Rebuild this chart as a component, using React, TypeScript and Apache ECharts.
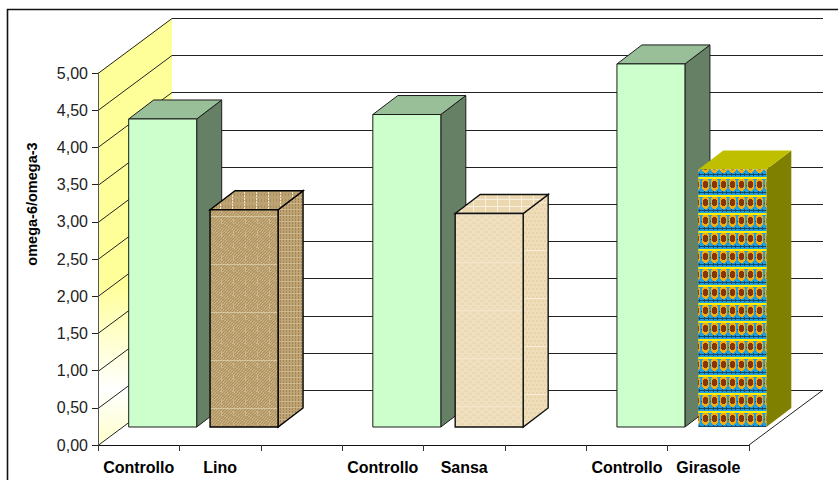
import React, { useEffect, useRef } from "react";
import * as echarts from "echarts";

// Slots along the category axis; empty slots separate the three groups.
const categories = ["Controllo", "Lino", "", "Controllo", "Sansa", "", "Controllo", "Girasole"];
const controlValues: [number, number][] = [
  [0, 4.14],
  [3, 4.2],
  [6, 4.88],
];
const linoValue: [number, number][] = [[1, 2.92]];
const sansaValue: [number, number][] = [[4, 2.87]];
const girasoleValue: [number, number][] = [[7, 3.46]];
const yTicks = [0, 0.5, 1, 1.5, 2, 2.5, 3, 3.5, 4, 4.5, 5];

const WALL_DX = 74;
const WALL_DY = -55;
const BAR_SHIFT_X = 24;
const BAR_SHIFT_Y = -18;
const BAR_DEPTH_X = 25;
const BAR_DEPTH_Y = -19;
const BAR_WIDTH = 68;

function makeTile(w: number, h: number, paint: (c: CanvasRenderingContext2D) => void) {
  const canvas = document.createElement("canvas");
  canvas.width = w;
  canvas.height = h;
  paint(canvas.getContext("2d") as CanvasRenderingContext2D);
  return canvas;
}

// Woven burlap: a mottled tan ground with fine stitches and a pale weft line.
function linoFrontTile() {
  return makeTile(12, 48, (c) => {
    c.fillStyle = "#bfa574";
    c.fillRect(0, 0, 12, 48);
    for (let y = 0; y < 48; y++) {
      for (let x = 0; x < 12; x++) {
        if ((x + y) % 3 === 0) {
          c.fillStyle = "#ad9160";
          c.fillRect(x, y, 1, 1);
        } else if ((x * 2 + y) % 5 === 0) {
          c.fillStyle = "#cfba8e";
          c.fillRect(x, y, 1, 1);
        }
      }
    }
    c.fillStyle = "#cdb98e";
    for (let y = 3; y < 48; y += 12) c.fillRect(5, y, 1, 5);
    c.fillStyle = "#d6c6a0";
    c.fillRect(0, 24, 12, 1);
  });
}

function linoSideTile() {
  return makeTile(3, 6, (c) => {
    c.fillStyle = "#bfa373";
    c.fillRect(0, 0, 3, 6);
    c.fillStyle = "#a0845a";
    c.fillRect(1, 0, 1, 2);
    c.fillRect(1, 3, 1, 2);
    c.fillStyle = "#cdb88e";
    c.fillRect(0, 5, 3, 1);
  });
}

function linoTopTile() {
  return makeTile(12, 6, (c) => {
    c.fillStyle = "#bda272";
    c.fillRect(0, 0, 12, 6);
    c.fillStyle = "#ab8f60";
    for (let x = 0; x < 12; x += 3) c.fillRect(x, 1, 1, 3);
    c.fillStyle = "#f0e8d4";
    c.fillRect(4, 0, 1, 2);
    c.fillRect(4, 3, 1, 2);
  });
}

// Pale olive wood: soft cream bands with a lighter horizontal streak.
function sansaFrontTile() {
  return makeTile(16, 48, (c) => {
    c.fillStyle = "#f0e0bf";
    c.fillRect(0, 0, 16, 48);
    for (let y = 0; y < 48; y += 3) {
      for (let x = (y / 3) % 2 === 0 ? 0 : 4; x < 16; x += 8) {
        c.fillStyle = "#ebd9b3";
        c.fillRect(x, y, 4, 2);
      }
    }
    c.fillStyle = "#f3e4ca";
    c.fillRect(0, 22, 16, 1);
  });
}

function sansaSideTile() {
  return makeTile(4, 48, (c) => {
    c.fillStyle = "#efdcb8";
    c.fillRect(0, 0, 4, 48);
    c.fillStyle = "#e7d3aa";
    for (let y = 0; y < 48; y += 4) c.fillRect(y % 8 === 0 ? 0 : 2, y, 2, 2);
    c.fillStyle = "#f6ebd6";
    c.fillRect(0, 10, 4, 1);
  });
}

function sansaTopTile() {
  return makeTile(12, 7, (c) => {
    c.fillStyle = "#ecd8b0";
    c.fillRect(0, 0, 12, 7);
    c.fillStyle = "#f8f0de";
    c.fillRect(5, 0, 1, 7);
    c.fillRect(0, 3, 12, 1);
  });
}

// Repeating sunflower: yellow stripe, brown disc in an orange ring, blue leaf band.
function girasoleTile() {
  return makeTile(9, 18, (c) => {
    c.fillStyle = "#1f9fe0";
    c.fillRect(0, 0, 9, 18);
    // flower column centred on x = 3
    c.fillStyle = "#f0ac10";
    c.fillRect(0, 0, 7, 9);
    c.fillRect(1, 17, 5, 1);
    c.fillRect(1, 9, 5, 1);
    c.fillRect(2, 10, 3, 1);
    c.fillStyle = "#8a3604";
    c.fillRect(2, 1, 3, 7);
    c.fillRect(1, 2, 5, 5);
    // leaf band
    c.fillStyle = "#124a6c";
    c.fillRect(0, 12, 9, 1);
    c.fillRect(2, 11, 1, 3);
    c.fillRect(6, 11, 1, 3);
    c.fillRect(8, 5, 1, 1);
    // yellow stripe
    c.fillStyle = "#ffee00";
    c.fillRect(0, 15, 9, 2);
  });
}

type Look = { front: any; top: any; side: any; stroke: string; width: number };

// One three-dimensional column, placed through the value and category scales.
function columnItem(look: Look, nudge: number) {
  return (_params: any, api: any) => {
    const p = api.coord([api.value(0), api.value(1)]);
    const base = api.coord([api.value(0), 0]);
    const x0 = p[0] + BAR_SHIFT_X - BAR_WIDTH / 2 + nudge;
    const x1 = x0 + BAR_WIDTH;
    const yt = p[1] + BAR_SHIFT_Y;
    const yb = base[1] + BAR_SHIFT_Y;
    const dx = BAR_DEPTH_X;
    const dy = BAR_DEPTH_Y;
    const line = { stroke: look.stroke, lineWidth: look.width };
    return {
      type: "group",
      children: [
        {
          type: "polygon",
          shape: { points: [[x1, yt], [x1 + dx, yt + dy], [x1 + dx, yb + dy], [x1, yb]] },
          style: { fill: look.side, ...line },
        },
        {
          type: "polygon",
          shape: { points: [[x0, yt], [x0 + dx, yt + dy], [x1 + dx, yt + dy], [x1, yt]] },
          style: { fill: look.top, ...line },
        },
        {
          type: "rect",
          shape: { x: x0, y: yt, width: BAR_WIDTH, height: yb - yt },
          style: { fill: look.front, ...line },
        },
      ],
    };
  };
}

function columnSeries(data: [number, number][], look: Look, z: number, nudge = 0) {
  return {
    type: "custom",
    data,
    z,
    clip: false,
    silent: true,
    renderItem: columnItem(look, nudge),
  };
}

export default function App() {
  const ref = useRef<HTMLDivElement>(null);

  useEffect(() => {
    const chart = echarts.init(ref.current as HTMLDivElement, undefined, { renderer: "svg" });
    const pattern = (image: HTMLCanvasElement) => ({ image, repeat: "repeat" });
    const control: Look = {
      front: "#CCFFCC",
      top: "#99BF99",
      side: "#668066",
      stroke: "#1c1c1c",
      width: 1,
    };
    const lino: Look = {
      front: pattern(linoFrontTile()),
      top: pattern(linoTopTile()),
      side: pattern(linoSideTile()),
      stroke: "#000000",
      width: 1.4,
    };
    const sansa: Look = {
      front: pattern(sansaFrontTile()),
      top: pattern(sansaTopTile()),
      side: pattern(sansaSideTile()),
      stroke: "#111111",
      width: 1.4,
    };
    const girasole: Look = {
      front: pattern(girasoleTile()),
      top: "#BFBF00",
      side: "#808000",
      stroke: "none",
      width: 0,
    };

    chart.setOption({
      animation: false,
      backgroundColor: "#ffffff",
      textStyle: { fontFamily: "'Liberation Sans', Arial, sans-serif" },
      graphic: [
        {
          type: "polyline",
          silent: true,
          shape: { points: [[7.5, 480], [7.5, 9.5], [838, 9.5]] },
          style: { fill: "none", stroke: "#111111", lineWidth: 1.6 },
        },
        {
          type: "text",
          silent: true,
          x: 32,
          y: 204,
          rotation: Math.PI / 2,
          style: {
            text: "omega-6/omega-3",
            align: "center",
            verticalAlign: "middle",
            fill: "#000000",
            fontWeight: "bold",
            fontSize: 14.5,
            fontFamily: "'Liberation Sans', Arial, sans-serif",
          },
        },
      ],
      grid: { left: 98, top: 73, width: 651, height: 372, containLabel: false },
      xAxis: {
        type: "category",
        data: categories,
        boundaryGap: true,
        z: 6,
        axisLine: { show: true, lineStyle: { color: "#111111", width: 1 } },
        axisTick: { show: true, length: 6, interval: 0, alignWithLabel: false, lineStyle: { color: "#333333" } },
        axisLabel: { interval: 0, color: "#000000", fontWeight: "bold", fontSize: 16, margin: 14 },
        splitLine: { show: false },
      },
      yAxis: {
        type: "value",
        min: 0,
        max: 5,
        interval: 0.5,
        z: 6,
        axisLine: { show: true, lineStyle: { color: "#555555", width: 1 } },
        axisTick: { show: true, length: 6, lineStyle: { color: "#222222" } },
        axisLabel: {
          color: "#222222",
          fontSize: 16,
          margin: 10,
          formatter: (v: number) => v.toFixed(2).replace(".", ","),
        },
        splitLine: { show: false },
      },
      series: [
        // Side wall and floor outline
        {
          type: "custom",
          data: [[0, 5]],
          z: 1,
          clip: false,
          silent: true,
          renderItem: (_p: any, api: any) => {
            const size = api.size([1, 0]);
            const top = api.coord([0, 5]);
            const bottom = api.coord([0, 0]);
            const left = top[0] - size[0] / 2;
            const right = left + size[0] * categories.length;
            const backX = left + WALL_DX;
            const backEnd = right + WALL_DX;
            return {
              type: "group",
              children: [
                {
                  type: "polygon",
                  shape: {
                    points: [
                      [left, top[1]],
                      [backX, top[1] + WALL_DY],
                      [backX, bottom[1] + WALL_DY],
                      [left, bottom[1]],
                    ],
                  },
                  style: {
                    fill: new echarts.graphic.LinearGradient(0, 0, 0, 1, [
                      { offset: 0, color: "#FFFF99" },
                      { offset: 0.62, color: "#FFFF99" },
                      { offset: 0.87, color: "#FFFFFF" },
                      { offset: 1, color: "#FFFFCC" },
                    ]),
                  },
                },
                {
                  type: "polyline",
                  shape: {
                    points: [
                      [backEnd, bottom[1] + WALL_DY],
                      [right, bottom[1]],
                    ],
                  },
                  style: { fill: "none", stroke: "#222222", lineWidth: 1 },
                },
              ],
            };
          },
        },
        // Gridlines folded across the side and back walls
        {
          type: "custom",
          data: yTicks.map((v) => [0, v]),
          z: 2,
          clip: false,
          silent: true,
          renderItem: (_p: any, api: any) => {
            const size = api.size([1, 0]);
            const c = api.coord([0, api.value(1)]);
            const left = c[0] - size[0] / 2;
            const backX = left + WALL_DX;
            const backEnd = left + size[0] * categories.length + WALL_DX;
            const y = Math.round(c[1]) + 0.5;
            return {
              type: "polyline",
              shape: {
                points: [
                  [left, y],
                  [backX, y + WALL_DY],
                  [backEnd, y + WALL_DY],
                ],
              },
              style: { fill: "none", stroke: "#222222", lineWidth: 1 },
            };
          },
        },
        columnSeries(controlValues.slice(0, 1), control, 3),
        columnSeries(linoValue, lino, 4),
        columnSeries(controlValues.slice(1, 2), control, 3),
        columnSeries(sansaValue, sansa, 4, 1),
        columnSeries(controlValues.slice(2, 3), control, 3),
        columnSeries(girasoleValue, girasole, 4),
      ],
    });
    return () => chart.dispose();
  }, []);

  return (
    <div
      ref={ref}
      style={{ position: "fixed", left: 0, top: 0, width: 838, height: 480, background: "#fff" }}
    />
  );
}
